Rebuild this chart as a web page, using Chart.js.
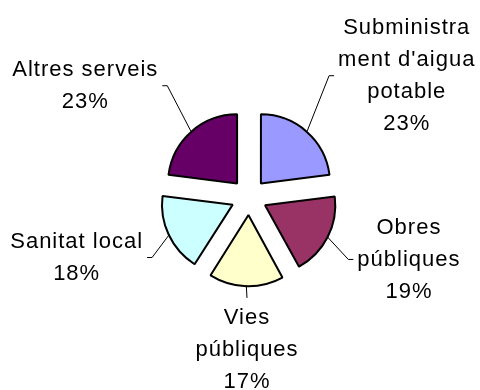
<!DOCTYPE html>
<html>
<head>
<meta charset="utf-8">
<script src="https://cdn.jsdelivr.net/npm/chart.js@4/dist/chart.umd.min.js"></script>
<style>
  html, body { margin: 0; padding: 0; background: #fff; }
  #wrap { width: 480px; height: 390px; position: relative; }
</style>
</head>
<body>
<div id="wrap"><canvas id="chart"></canvas></div>
<script>
// slice names (split the way the reference wraps them) and their values in %
const categories = [["Subministra", "ment d'aigua", "potable"], ["Obres", "públiques"], ["Vies", "públiques"], ["Sanitat local"], ["Altres serveis"]];
const values = [23, 19, 17, 18, 23];
const colors = ['#9999FF', '#993366', '#FFFFCC', '#CCFFFF', '#660066'];

// labels outside the pie, with a leader line ending in a short tick
const outLabels = {
  id: 'outLabels',
  afterDatasetsDraw(chart, args, o) {
    const ctx = chart.ctx, meta = chart.getDatasetMeta(0);
    const data = chart.data.datasets[0].data, total = data.reduce((a, b) => a + b, 0);
    ctx.save();
    ctx.font = o.font; ctx.letterSpacing = o.letterSpacing;
    ctx.fillStyle = '#000'; ctx.strokeStyle = '#000'; ctx.lineWidth = 1;
    ctx.textAlign = 'center'; ctx.textBaseline = 'middle';
    meta.data.forEach((arc, i) => {
      const p = arc.getProps(['x', 'y', 'startAngle', 'endAngle', 'outerRadius'], true);
      const mid = (p.startAngle + p.endAngle) / 2;
      const off = (arc.options.offset || 0) / 4;
      const cx = p.x + Math.cos(mid) * off, cy = p.y + Math.sin(mid) * off;
      const ax = cx + Math.cos(mid) * (p.outerRadius + 1), ay = cy + Math.sin(mid) * (p.outerRadius + 1);
      const lines = [].concat(chart.data.labels[i], Math.round(data[i] / total * 100) + '%');
      const w = Math.max(...lines.map(t => ctx.measureText(t).width));
      const h = lines.length * o.lineHeight;
      const bx = p.x + Math.cos(mid) * o.radius + o.shift[i][0];
      const by = p.y + Math.sin(mid) * o.radius + o.shift[i][1];
      ctx.beginPath();
      ctx.moveTo(ax, ay);
      if (Math.abs(bx - p.x) < w / 2) {
        ctx.lineTo(bx, by - h / 2 - 4);
      } else {
        const s = bx > p.x ? 1 : -1;
        const tick = bx - s * (w / 2 + 4);
        ctx.lineTo(tick - s * 5, by);
        ctx.lineTo(tick, by);
      }
      ctx.stroke();
      lines.forEach((t, k) => ctx.fillText(t, bx, by + (k - (lines.length - 1) / 2) * o.lineHeight));
    });
    ctx.restore();
  }
};

new Chart(document.getElementById('chart'), {
  type: 'pie',
  data: {
    labels: categories,
    datasets: [{
      data: values,
      backgroundColor: colors,
      borderColor: '#000',
      borderWidth: 2,
      offset: 72
    }]
  },
  options: {
    responsive: true,
    maintainAspectRatio: false,
    animation: false,
    radius: 69,
    layout: { padding: { left: 18, top: 4 } },
    plugins: {
      legend: { display: false },
      tooltip: { enabled: false },
      outLabels: {
        font: '22px "Liberation Sans", Arial, sans-serif',
        letterSpacing: '1px',
        lineHeight: 32,
        radius: 175,
        shift: [[42, 10], [4, -17], [3.5, -22], [-14, -14], [-48, 20]]
      }
    }
  },
  plugins: [outLabels]
});
</script>
</body>
</html>
